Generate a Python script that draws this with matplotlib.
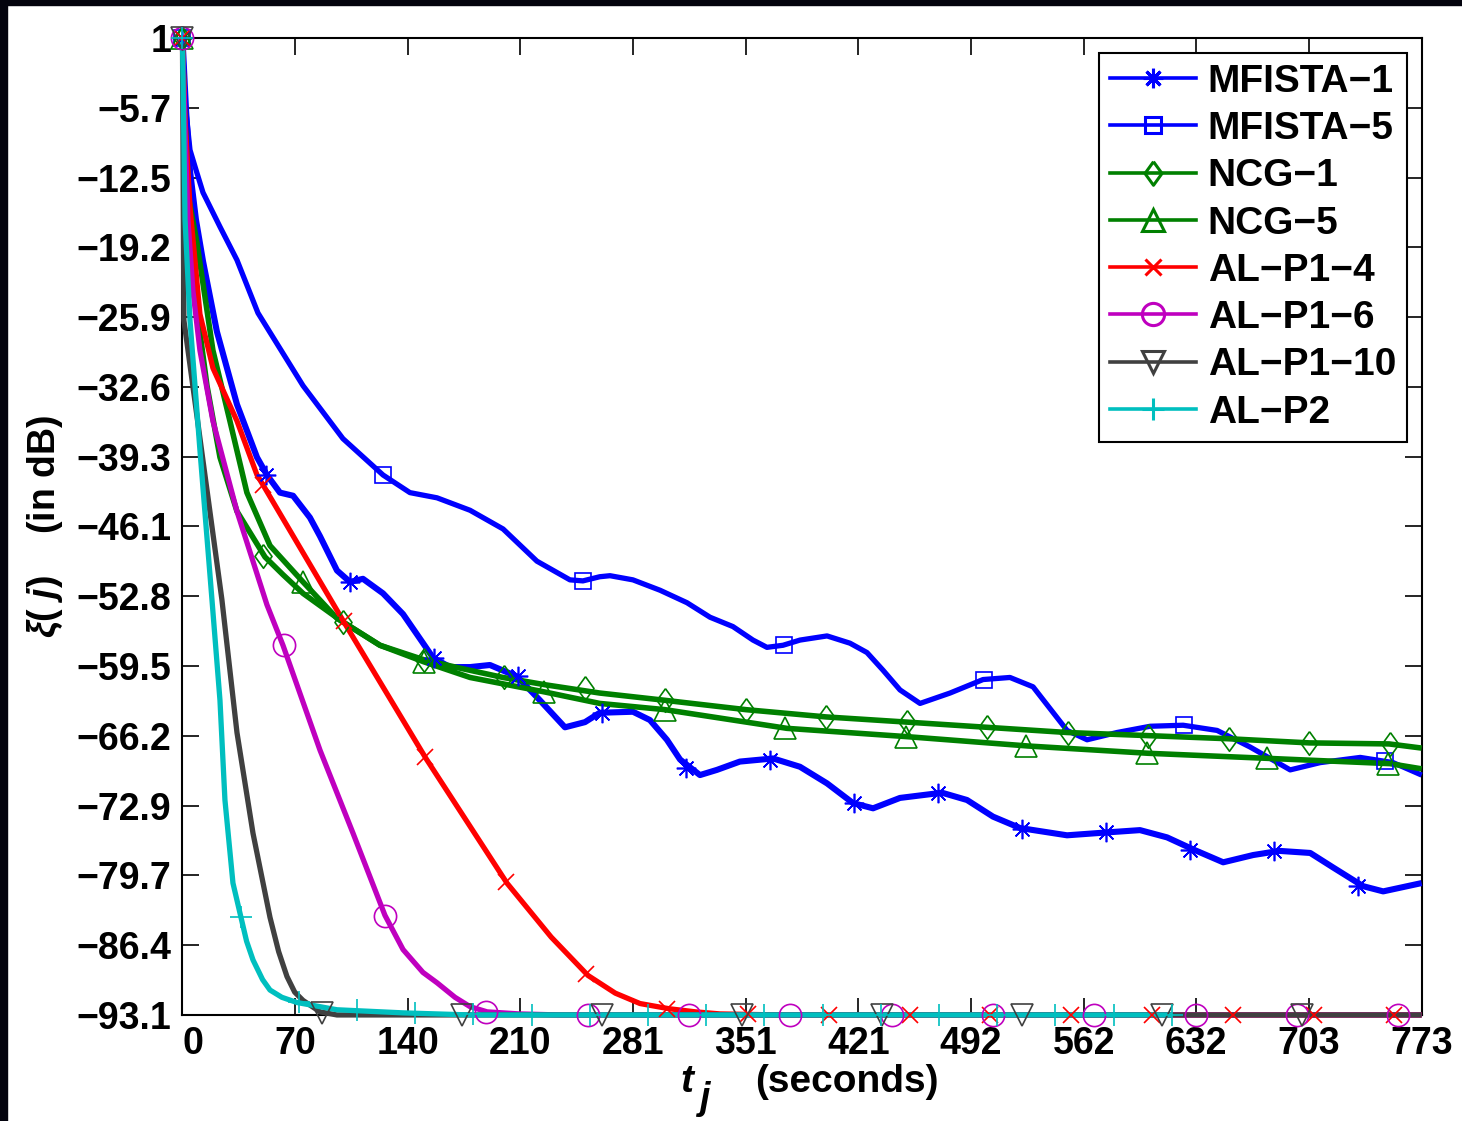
import numpy as np
import matplotlib
matplotlib.use('Agg')
import matplotlib.pyplot as plt
from matplotlib.lines import Line2D
from matplotlib.patches import Rectangle

plt.rcParams['font.family'] = ['Liberation Sans', 'DejaVu Sans']
plt.rcParams['font.weight'] = 'bold'
plt.rcParams['mathtext.fontset'] = 'custom'
plt.rcParams['mathtext.it'] = 'Liberation Sans:italic:bold'
plt.rcParams['mathtext.rm'] = 'Liberation Sans:bold'

# ---- data (t in seconds, xi in dB) ----
t_mf1 = [0, 2.2, 4.7, 8.4, 12.8, 21.5, 34.0, 46.5, 52.7, 60.8, 69.0, 79.5, 85.8, 96.4,
         104.5, 112.6, 125.1, 137.6, 150.1, 156.3, 166.9, 179.4, 191.8, 208.7, 223.0,
         238.6, 251.1, 260.3, 281.0, 291.6, 302.2, 310.4, 322.8, 333.4, 347.7, 368.4,
         385.2, 402.1, 418.3, 430.8, 447.6, 473.8, 489.4, 505.6, 522.5, 551.8, 578.6,
         597.3, 614.2, 631.1, 649.2, 667.9, 684.2, 703.5, 717.8, 736.5, 749.0, 773]
v_mf1 = [1, -5.9, -11.8, -16.5, -20.5, -27.3, -34.3, -39.4, -41.1, -42.8, -43.1, -45.2,
         -47.0, -50.3, -51.4, -51.1, -52.5, -54.5, -57.3, -58.7, -59.6, -59.6, -59.4,
         -60.5, -62.8, -65.4, -64.9, -64.0, -63.9, -64.7, -66.6, -68.5, -70.0, -69.5,
         -68.7, -68.4, -69.2, -70.8, -72.7, -73.2, -72.2, -71.7, -72.4, -74.0, -75.1,
         -75.8, -75.5, -75.3, -76.0, -77.2, -78.4, -77.7, -77.3, -77.5, -78.9, -80.7,
         -81.2, -80.4]
mt_mf1 = [0, 52.4, 104.8, 157.2, 209.6, 262.0, 314.4, 366.8, 419.2, 471.6, 524.0,
          576.4, 628.8, 681.2, 733.6]
mv_mf1 = [1, -41.1, -51.4, -58.7, -60.5, -64.0, -69.3, -68.5, -72.7, -71.7, -75.2,
          -75.5, -77.2, -77.3, -80.7]

t_mf5 = [0, 1.6, 3.4, 4.7, 9.0, 12.8, 23.4, 34.0, 47.1, 75.2, 100.1, 125.1, 141.9,
         158.8, 179.4, 200.0, 221.1, 241.7, 249.8, 260.3, 266.7, 281.0, 297.9, 314.7,
         329.1, 343.4, 355.9, 364.6, 374.6, 385.2, 402.1, 416.4, 427.0, 437.0, 447.6,
         460.1, 478.8, 499.4, 516.2, 530.6, 551.8, 564.3, 583.0, 603.6, 624.2, 645.4,
         666.0, 691.0, 709.7, 734.7, 755.2, 773]
v_mf5 = [1, -5.3, -7.9, -9.8, -12.0, -13.9, -17.2, -20.4, -25.5, -32.5, -37.6, -41.1,
         -42.8, -43.3, -44.5, -46.3, -49.4, -51.2, -51.3, -50.9, -50.8, -51.2, -52.2,
         -53.4, -54.8, -55.7, -57.0, -57.7, -57.5, -57.0, -56.6, -57.3, -58.2, -59.9,
         -61.8, -63.1, -62.1, -60.8, -60.6, -61.5, -65.7, -66.6, -65.9, -65.3, -65.2,
         -65.7, -67.3, -69.5, -68.8, -68.3, -68.8, -70.0]
mt_mf5 = [0, 125, 250, 375, 500, 625, 750]
mv_mf5 = [1, -41.1, -51.3, -57.5, -60.8, -65.2, -68.6]

t_ncg1 = [0, 0.9, 3.4, 6.5, 15.3, 23.4, 34.0, 51.5, 62.7, 75.2, 99.5, 123.2, 150.7,
          173.1, 200.0, 226.1, 260.3, 301.0, 351.5, 401.5, 452.0, 501.9, 551.8, 602.3,
          652.3, 702.9, 752.7, 773]
v_ncg1 = [1, -5.0, -14.6, -22.2, -32.5, -39.4, -44.6, -49.0, -50.7, -52.5, -55.2, -57.5,
          -58.9, -59.7, -60.6, -61.3, -62.1, -62.8, -63.7, -64.4, -64.9, -65.4, -65.9,
          -66.2, -66.5, -66.9, -67.0, -67.4]
mt_ncg1 = [0, 50.2, 100.4, 150.6, 200.8, 251.0, 301.2, 351.4, 401.6, 451.8, 502.0,
           552.2, 602.4, 652.6, 702.8, 753.0]
mv_ncg1 = [1, -48.9, -55.3, -58.9, -60.6, -61.6, -62.8, -63.7, -64.4, -64.9, -65.4,
           -65.9, -66.2, -66.5, -66.9, -67.0]

t_ncg5 = [0, 0.9, 4.1, 9.0, 19.0, 29.6, 40.2, 54.6, 75.2, 96.4, 123.2, 150.7, 179.4,
          226.1, 260.3, 301.0, 377.1, 452.0, 527.5, 602.3, 678.5, 753.3, 773]
v_ncg5 = [1, -5.0, -14.6, -18.7, -29.1, -35.9, -42.8, -47.9, -51.4, -54.9, -57.5, -59.1,
          -60.6, -62.0, -63.1, -63.7, -65.5, -66.3, -67.2, -67.9, -68.4, -68.9, -69.4]
mt_ncg5 = [0, 75.2, 150.4, 225.6, 300.8, 376.0, 451.2, 526.4, 601.6, 676.8, 752.0]
mv_ncg5 = [1, -51.4, -59.1, -62.0, -63.7, -65.5, -66.3, -67.2, -67.9, -68.4, -68.9]

t_p14 = [0, 1.6, 4.7, 10.9, 19.0, 34.0, 46.5, 50.8, 100.1, 151.9, 202.4, 230.0, 253.0,
         270.0, 285.4, 303.5, 320.0, 335.3, 372.7, 773]
v_p14 = [1, -6.9, -15.3, -25.6, -30.8, -35.9, -41.1, -42.2, -55.1, -68.4, -80.4, -85.6,
         -89.3, -91.0, -92.0, -92.5, -92.8, -93.0, -93.1, -93.1]
mt_p14 = [0, 50.4, 100.8, 151.2, 201.6, 252.0, 302.4, 352.8, 403.2, 453.6, 504.0,
          554.4, 604.8, 655.2, 705.6, 756.0]
mv_p14 = [1, -42.1, -55.2, -68.3, -80.3, -89.2, -92.5, -93.0, -93.1, -93.1, -93.1,
          -93.1, -93.1, -93.1, -93.1, -93.1]

t_p16 = [0, 1.6, 3.4, 6.5, 10.9, 19.0, 34.0, 52.7, 62.7, 85.8, 106.4, 126.3, 137.6,
         150.0, 158.8, 170.0, 179.4, 190.0, 210.0, 235.5, 773]
v_p16 = [1, -7.9, -16.5, -23.3, -29.1, -35.9, -44.6, -53.6, -57.5, -67.6, -75.6, -83.5,
         -86.8, -89.0, -90.0, -91.4, -92.3, -92.8, -93.0, -93.1, -93.1]
mt_p16 = [0, 63.2, 126.4, 189.6, 252.8, 316.0, 379.2, 442.4, 505.6, 568.8, 632.0,
          695.2, 758.4]
mv_p16 = [1, -57.5, -83.6, -92.8, -93.1, -93.1, -93.1, -93.1, -93.1, -93.1, -93.1,
          -93.1, -93.1]

t_p110 = [0, 0.9, 24.6, 34.0, 44.0, 54.6, 60.0, 65.2, 70.0, 75.2, 85.8, 96.4, 773]
v_p110 = [1, -26.2, -53.1, -65.9, -75.6, -83.7, -87.0, -89.4, -90.9, -91.7, -92.8,
          -93.1, -93.1]
mt_p110 = [0, 87.3, 174.6, 261.9, 349.2, 436.5, 523.8, 611.1, 698.4]
mv_p110 = [1, -92.9, -93.1, -93.1, -93.1, -93.1, -93.1, -93.1, -93.1]

t_p2 = [0, 1.6, 4.7, 10.9, 18.4, 23.4, 26.5, 31.5, 36.5, 40.0, 44.0, 50.0, 54.6, 62.0,
        71.4, 96.4, 137.6, 179.4, 617.3]
v_p2 = [1, -16.5, -26.2, -38.7, -53.1, -62.8, -72.4, -80.4, -83.7, -86.0, -87.8, -89.7,
        -90.7, -91.4, -91.9, -92.6, -92.9, -93.1, -93.1]
mt_p2 = [0, 36.3, 72.6, 108.9, 145.2, 181.5, 217.8, 254.1, 290.4, 326.7, 363.0, 399.3,
         435.6, 471.9, 508.2, 544.5, 580.8, 617.1]
mv_p2 = [1, -83.7, -91.9, -92.6, -92.9, -93.0, -93.1, -93.1, -93.1, -93.1, -93.1,
         -93.1, -93.1, -93.1, -93.1, -93.1, -93.1, -93.1]

xticks = [0, 70.27, 140.55, 210.82, 281.09, 351.36, 421.64, 491.91, 562.18, 632.45,
          702.73, 773]
xtick_labels = ['0', '70', '140', '210', '281', '351', '421', '492', '562', '632',
                '703', '773']
yticks = [-93.1, -86.38, -79.66, -72.94, -66.22, -59.5, -52.78, -46.06, -39.34,
          -32.62, -25.9, -19.18, -12.46, -5.74, 0.98]
ytick_labels = ['\u221293.1', '\u221286.4', '\u221279.7', '\u221272.9', '\u221266.2',
                '\u221259.5', '\u221252.8', '\u221246.1', '\u221239.3', '\u221232.6',
                '\u221225.9', '\u221219.2', '\u221212.5', '\u22125.7', '1']

diamond = [(0, 1), (0.72, 0), (0, -1), (-0.72, 0), (0, 1)]

series = [
    ('MFISTA\u22121', t_mf1, v_mf1, mt_mf1, mv_mf1, (0, 0, 1), (8, 2, 0), 14, 4.4),
    ('MFISTA\u22125', t_mf5, v_mf5, mt_mf5, mv_mf5, (0, 0, 1), 's', 12, 3.8),
    ('NCG\u22121', t_ncg1, v_ncg1, mt_ncg1, mv_ncg1, (0, 0.5, 0), diamond, 17, 4.0),
    ('NCG\u22125', t_ncg5, v_ncg5, mt_ncg5, mv_ncg5, (0, 0.5, 0), '^', 16, 4.0),
    ('AL\u2212P1\u22124', t_p14, v_p14, mt_p14, mv_p14, (1, 0, 0), 'x', 12, 3.8),
    ('AL\u2212P1\u22126', t_p16, v_p16, mt_p16, mv_p16, (0.75, 0, 0.75), 'o', 16, 3.8),
    ('AL\u2212P1\u221210', t_p110, v_p110, mt_p110, mv_p110, (0.25, 0.25, 0.25), 'v', 16, 3.8),
    ('AL\u2212P2', t_p2, v_p2, mt_p2, mv_p2, (0, 0.75, 0.75), '+', 16, 3.8),
]

fig = plt.figure(figsize=(14.62, 11.21), dpi=100)
ax = fig.add_axes([0.1248, 0.0946, 0.8476, 0.8715])

handles = []
for name, t, v, mt, mv, col, mk, ms, lw in series:
    ax.plot(t, v, color=col, lw=lw, clip_on=False, zorder=3,
            solid_joinstyle='round', solid_capstyle='butt')
    ax.plot(mt, mv, ls='none', marker=mk, ms=ms, mfc='none', mec=col, mew=1.2,
            clip_on=False, zorder=4)
    handles.append(Line2D([], [], color=col, lw=2.6, marker=mk, ms=ms, mfc='none',
                          mec=col, mew=2.2, label=name))

ax.set_xlim(0, 773)
ax.set_ylim(-93.1, 0.98)
ax.set_xticks(xticks)
ax.set_xticklabels(xtick_labels)
ax.set_yticks(yticks)
ax.set_yticklabels(ytick_labels)
ax.tick_params(direction='in', length=12, width=1.2, top=True, right=True,
               labelsize=27, pad=8)
ax.get_xticklabels()[0].set_ha('left')
for s in ax.spines.values():
    s.set_linewidth(1.5)

# x label: t_j (seconds)
fig.text(0.4695, 0.0259, 't', fontsize=28, fontweight='bold', fontstyle='italic',
         ha='center', va='baseline')
fig.text(0.4815, 0.011, 'j', fontsize=27, fontweight='bold', fontstyle='italic',
         ha='center', va='baseline')
fig.text(0.5164, 0.0259, '(seconds)', fontsize=28, fontweight='bold',
         ha='left', va='baseline')

ax.set_ylabel(r'$\xi$( $j$)    (in dB)', fontsize=27, fontweight='bold', labelpad=8)

leg = ax.legend(handles=handles, loc='upper right', fontsize=28, frameon=True,
                fancybox=False, edgecolor='black', framealpha=1, handlelength=2.2,
                handletextpad=0.3, labelspacing=0.29, borderaxespad=0.38,
                borderpad=0.28)
leg.get_frame().set_linewidth(1.5)
leg.set_zorder(10)

# dark strips along the top and left edges of the picture
fig.patches.append(Rectangle((0, 1 - 5 / 1121), 1, 5 / 1121, transform=fig.transFigure,
                             color='#03030d', zorder=0))
fig.patches.append(Rectangle((0, 0), 7 / 1462, 1, transform=fig.transFigure,
                             color='#03030d', zorder=0))

fig.savefig('out.png', dpi=100)
